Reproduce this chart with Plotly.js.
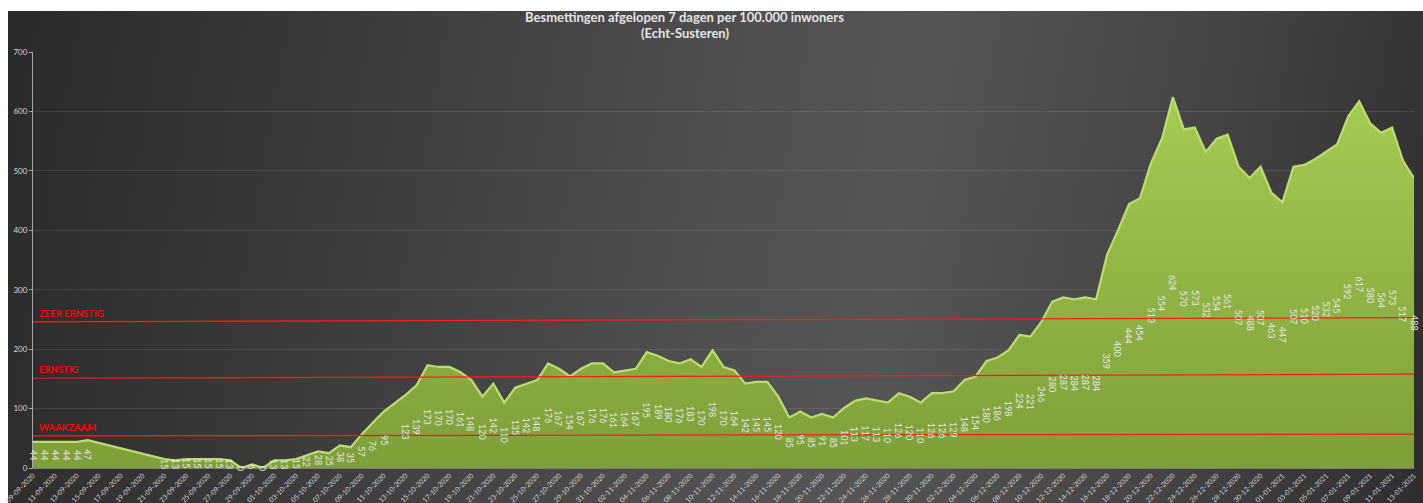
<!DOCTYPE html>
<html>
<head>
<meta charset="utf-8">
<script src="https://cdn.plot.ly/plotly-3.0.1.min.js"></script>
<style>
  html, body { margin: 0; padding: 0; background: #ffffff; }
  #bg { position: absolute; left: 8px; top: 11px; width: 1415px; height: 492px;
        background: linear-gradient(100deg, #2a2a2a 0%, #3c3c3c 25%, #505050 50%, #555555 62%, #444444 82%, #2e2e2e 100%); }
  #chart { position: absolute; left: 0; top: 0; width: 1423px; height: 503px; }
</style>
</head>
<body>
<div id="bg"></div>
<div id="chart"></div>
<script>
// ---- data ----
const startDate = '2020-09-09';
const values = [
  44, 44, 44, 44, 44, 47,
  null, null, null, null, null, null,
  15, 13, 15, 15, 15, 15, 13,
  0, 6, 0,
  13, 13, 15, 22, 28, 25, 38, 35,
  57, 76, 95,
  null,
  123, 139, 173, 170, 170, 161, 148, 120, 142, 110, 135, 142, 148, 176, 167, 154, 167, 176, 176, 161, 164, 167, 195, 189, 180, 176, 183,
  170, 198, 170, 164, 142, 145, 145, 120, 85, 95, 85, 91, 85, 101, 113, 117, 113, 110, 126, 120, 110, 126, 126, 129, 148, 154, 180, 186, 198, 224, 221,
  246, 280, 287, 284, 287, 284, 359, 400, 444, 454, 513, 554, 624, 570, 573, 532, 554, 561, 507, 488, 507, 463, 447, 507, 510, 520, 532, 545, 592, 617, 580, 564, 573, 517, 488
];
const thresholdNames = ['ZEER ERNSTIG', 'ERNSTIG', 'WAAKZAAM'];
const thresholdLeft  = [246, 151, 54];
const thresholdRight = [253, 158, 57];
const titleLine1 = 'Besmettingen afgelopen 7 dagen per 100.000 inwoners';
const titleLine2 = '(Echt-Susteren)';

// ---- dates ----
function pad(n) { return (n < 10 ? '0' : '') + n; }
const dates = [];
{
  const d0 = new Date(startDate + 'T00:00:00Z');
  for (let i = 0; i < values.length; i++) {
    const d = new Date(d0.getTime() + i * 86400000);
    dates.push(d.getUTCFullYear() + '-' + pad(d.getUTCMonth() + 1) + '-' + pad(d.getUTCDate()));
  }
}

const area = {
  x: dates, y: values, type: 'scatter', mode: 'lines',
  connectgaps: true,
  fill: 'tozeroy',
  fillgradient: { type: 'vertical', colorscale: [[0, '#7e9f39'], [1, '#a4cb52']] },
  line: { color: '#bcdc72', width: 2.2, shape: 'linear' },
  hoverinfo: 'x+y'
};

const annotations = [];
values.forEach((v, i) => {
  if (v === null) return;
  annotations.push({
    x: dates[i], y: v / 2, xref: 'x', yref: 'y',
    text: String(v), showarrow: false, textangle: 90,
    font: { family: 'Lato, sans-serif', size: 9, color: '#e6e6e6' }
  });
});

const shapes = [];
thresholdNames.forEach((name, k) => {
  shapes.push({
    type: 'line', xref: 'paper', yref: 'y', x0: 0, x1: 1,
    y0: thresholdLeft[k], y1: thresholdRight[k],
    line: { color: '#ff1a1a', width: 1.2 }, layer: 'above'
  });
  annotations.push({
    xref: 'paper', yref: 'y', x: 0.003, y: thresholdLeft[k],
    xanchor: 'left', yanchor: 'bottom', yshift: 1,
    text: '<b>' + name + '</b>', showarrow: false,
    font: { family: 'Lato, sans-serif', size: 9.5, color: '#ff0000' }
  });
});

// title as two centred annotations above the plot
[titleLine1, titleLine2].forEach((t, k) => {
  annotations.push({
    xref: 'paper', yref: 'paper', x: 0.472, y: 1,
    xanchor: 'center', yanchor: 'middle', yshift: k === 0 ? 35 : 19,
    text: '<b>' + t + '</b>', showarrow: false,
    font: { family: 'Lato, sans-serif', size: 13, color: '#e4e4e4' }
  });
});

const layout = {
  width: 1423, height: 503,
  margin: { l: 33, r: 9, t: 52, b: 35 },
  paper_bgcolor: 'rgba(0,0,0,0)',
  plot_bgcolor: 'rgba(0,0,0,0)',
  showlegend: false,
  xaxis: {
    type: 'date',
    range: [dates[0], dates[dates.length - 1]],
    tick0: dates[0], dtick: 2 * 86400000,
    tickformat: '%d-%m-%Y', tickangle: -45,
    tickfont: { family: 'Lato, sans-serif', size: 7, color: '#cfcfcf' },
    showgrid: false, zeroline: false,
    showline: true, linecolor: '#7a7a7a', linewidth: 1,
    ticks: '', fixedrange: true
  },
  yaxis: {
    range: [0, 700], dtick: 100,
    tickfont: { family: 'Lato, sans-serif', size: 8, color: '#d6d6d6' },
    showgrid: true, gridcolor: 'rgba(255,255,255,0.09)', gridwidth: 1,
    zeroline: false,
    showline: true, linecolor: '#a8a8a8', linewidth: 1,
    ticks: 'outside', ticklen: 3, tickcolor: '#a8a8a8',
    fixedrange: true
  },
  shapes: shapes,
  annotations: annotations
};

Plotly.newPlot('chart', [area], layout, { displayModeBar: false, staticPlot: true });
</script>
</body>
</html>
